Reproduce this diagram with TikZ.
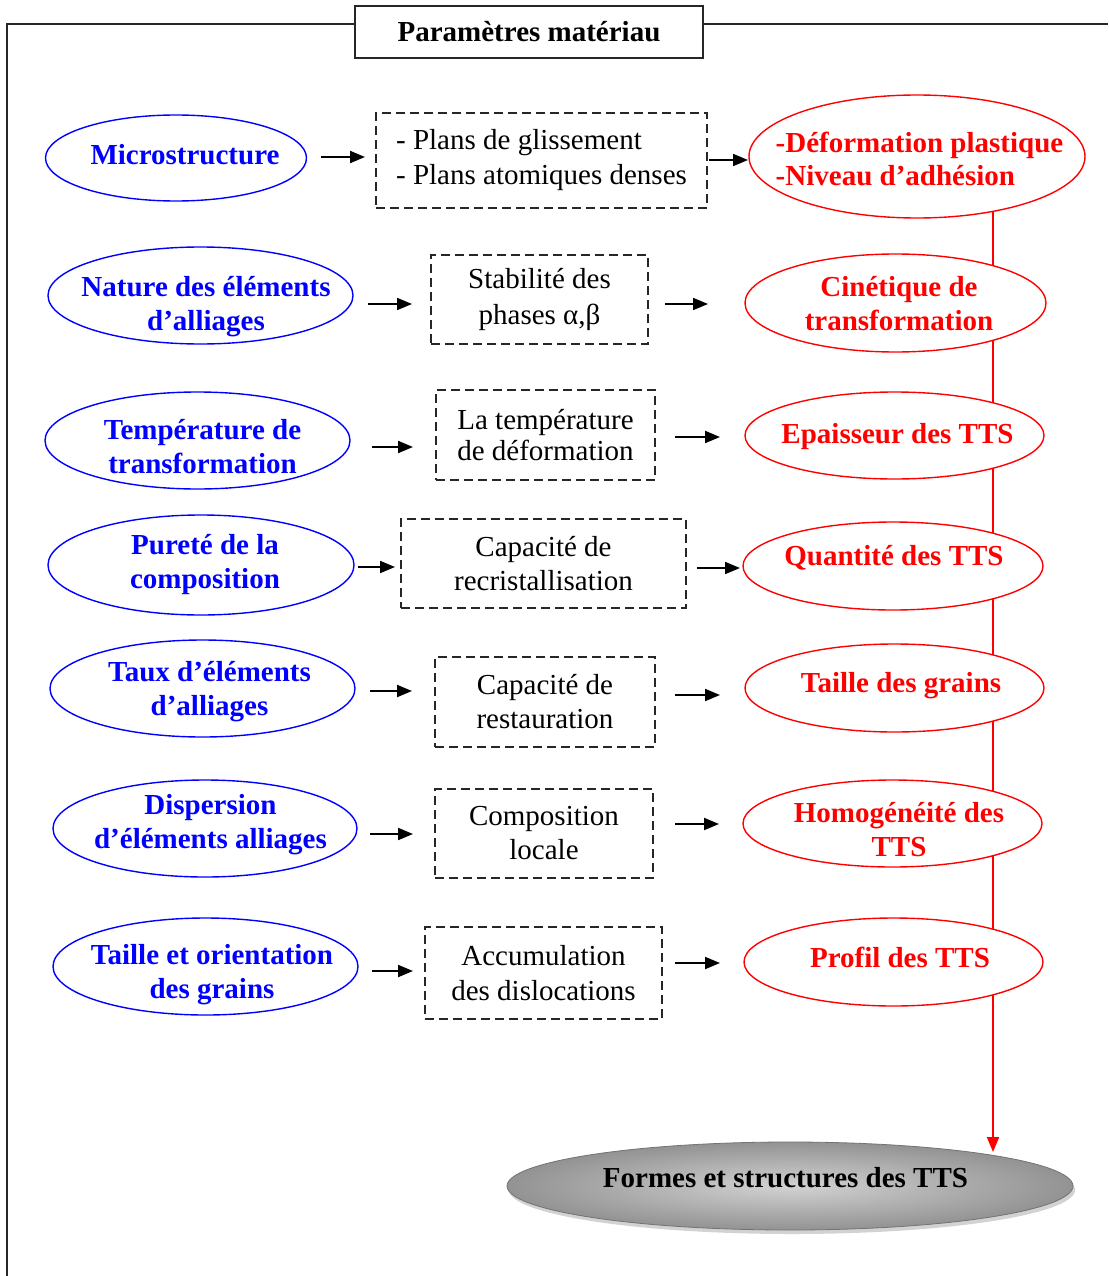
\documentclass[tikz,border=0pt]{standalone}
\usepackage{fontspec}
\setmainfont{Liberation Serif}
\usetikzlibrary{shapes.geometric,arrows.meta,shadows,backgrounds}
\definecolor{pblue}{RGB}{0,0,255}
\definecolor{pred}{RGB}{255,0,0}
\begin{document}
\begin{tikzpicture}[x=1pt,y=-1pt,
  every node/.style={inner sep=0pt, outer sep=0pt},
  bell/.style={ellipse, draw=pblue, line width=1.4pt, fill=white},
  rell/.style={ellipse, draw=pred, line width=1.4pt, fill=white},
  btxt/.style={text=pblue, font=\fontsize{29}{34}\selectfont\bfseries, align=center},
  rtxt/.style={text=pred, font=\fontsize{29}{34}\selectfont\bfseries, align=center},
  dbox/.style={draw=black!85, dash pattern=on 9pt off 5pt, line width=1.5pt, font=\fontsize{29}{34}\selectfont, align=center},
  arr/.style={-{Triangle[length=15pt,width=12pt]}, line width=2pt},
  frameln/.style={line width=2pt, draw=black!85},
  redln/.style={draw=pred, line width=2pt, -{Triangle[length=15pt,width=12pt]}},
]
\useasboundingbox (0,0) rectangle (1108,1276);
\begin{scope}[on background layer]
\fill[white] (0,0) rectangle (1108,1276);
\end{scope}

% header and frame
\node[draw=black!85, line width=1.8pt, minimum width=348, minimum height=52,
      font=\fontsize{29}{34}\selectfont\bfseries] (h) at (529,32) {Paramètres matériau};
\coordinate (ftl) at (7,24);
\coordinate (ftr) at (1108,24);
\coordinate (fbl) at (7,1276);
\draw[frameln] (h.west |- ftl) -- (ftl) -- (fbl);
\draw[frameln] (h.east |- ftr) -- (ftr);

% blue ellipses
\node[bell, minimum width=261, minimum height=86] (b1) at (176,158) {};
\node[bell, minimum width=305, minimum height=97] (b2) at (200.5,295.5) {};
\node[bell, minimum width=305, minimum height=97] (b3) at (197.5,440.5) {};
\node[bell, minimum width=306, minimum height=100] (b4) at (201,565) {};
\node[bell, minimum width=305, minimum height=97] (b5) at (202.5,688.5) {};
\node[bell, minimum width=304, minimum height=97] (b6) at (205,828.5) {};
\node[bell, minimum width=305, minimum height=97] (b7) at (205.5,966.5) {};

\node[btxt] (t1) at (185,155) {Microstructure};
\node[btxt] (t2) at (206,307) {Nature des éléments\\d’alliages};
\node[btxt] (t3) at (202.5,446.5) {Température de\\transformation};
\node[btxt] (t4) at (205,565) {Pureté de la\\composition};
\node[btxt] (t5) at (209.5,692) {Taux d’éléments\\d’alliages};
\node[btxt] (t6) at (210.5,825) {Dispersion\\d’éléments alliages};
\node[btxt] (t7) at (212,974.5) {Taille et orientation\\des grains};

% dashed boxes
\node[dbox, minimum width=331, minimum height=95, align=left] (d1) at (541.5,160.5) {- Plans de glissement\\[1pt]- Plans atomiques denses};
\node[dbox, minimum width=217, minimum height=89] (d2) at (539.5,299.5) {Stabilité des\\[2pt]phases α,β};
\node[dbox, minimum width=219, minimum height=90] (d3) at (545.5,435) {La température\\[-3pt]de déformation};
\node[dbox, minimum width=285, minimum height=89] (d4) at (543.5,563.5) {Capacité de\\recristallisation};
\node[dbox, minimum width=220, minimum height=90] (d5) at (545,702) {Capacité de\\restauration};
\node[dbox, minimum width=218, minimum height=89] (d6) at (544,833.5) {Composition\\locale};
\node[dbox, minimum width=237, minimum height=92] (d7) at (543.5,973) {Accumulation\\[1pt]des dislocations};

% red ellipses
\node[rell, minimum width=336, minimum height=123] (r1) at (917,156.5) {};
\node[rell, minimum width=301, minimum height=98] (r2) at (895.5,303) {};
\node[rell, minimum width=299, minimum height=87] (r3) at (894.5,435.5) {};
\node[rell, minimum width=300, minimum height=88] (r4) at (893,566) {};
\node[rell, minimum width=299, minimum height=88] (r5) at (894.5,688) {};
\node[rell, minimum width=299, minimum height=87] (r6) at (892.5,823.5) {};
\node[rell, minimum width=299, minimum height=88] (r7) at (893.5,962) {};

\node[rtxt, align=left] (s1) at (919.5,158.5) {-Déformation plastique\\[-1pt]-Niveau d’adhésion};
\node[rtxt] (s2) at (899,303.5) {Cinétique de\\transformation};
\node[rtxt] (s3) at (897.5,437) {Epaisseur des TTS};
\node[rtxt] (s4) at (894,558) {Quantité des TTS};
\node[rtxt] (s5) at (901,686) {Taille des grains};
\node[rtxt] (s6) at (899,830) {Homogénéité des\\TTS};
\node[rtxt] (s7) at (900,957) {Profil des TTS};

% gray final ellipse
\node[ellipse, minimum width=566, minimum height=88, draw=black!55, line width=0.8pt,
      inner color=gray!35, outer color=gray!85,
      drop shadow={shadow xshift=2pt, shadow yshift=-4pt, opacity=0.35}] (g) at (790,1186) {};
\node[font=\fontsize{29}{34}\selectfont\bfseries] (gt) at (785.5,1178) {Formes et structures des TTS};

% row arrow levels
\coordinate (la1) at (0,157);  \coordinate (ra1) at (0,160);
\coordinate (la2) at (0,304);  \coordinate (ra2) at (0,304);
\coordinate (la3) at (0,447);  \coordinate (ra3) at (0,437);
\coordinate (la4) at (0,567);  \coordinate (ra4) at (0,568);
\coordinate (la5) at (0,691);  \coordinate (ra5) at (0,695);
\coordinate (la6) at (0,834);  \coordinate (ra6) at (0,824);
\coordinate (la7) at (0,971);  \coordinate (ra7) at (0,963);

% left arrows
\draw[arr, shorten <=14.5, shorten >=11] (b1.east |- la1) -- (d1.west |- la1);
\draw[arr, shorten <=15, shorten >=19] (b2.east |- la2) -- (d2.west |- la2);
\draw[arr, shorten <=22, shorten >=23] (b3.east |- la3) -- (d3.west |- la3);
\draw[arr, shorten <=4, shorten >=6] (b4.east |- la4) -- (d4.west |- la4);
\draw[arr, shorten <=15, shorten >=23] (b5.east |- la5) -- (d5.west |- la5);
\draw[arr, shorten <=13, shorten >=22] (b6.east |- la6) -- (d6.west |- la6);
\draw[arr, shorten <=14, shorten >=12] (b7.east |- la7) -- (d7.west |- la7);

% right arrows
\draw[arr, shorten <=2, shorten >=1] (d1.east |- ra1) -- (r1.west |- ra1);
\draw[arr, shorten <=17, shorten >=37] (d2.east |- ra2) -- (r2.west |- ra2);
\draw[arr, shorten <=20, shorten >=25] (d3.east |- ra3) -- (r3.west |- ra3);
\draw[arr, shorten <=11, shorten >=3] (d4.east |- ra4) -- (r4.west |- ra4);
\draw[arr, shorten <=20, shorten >=25] (d5.east |- ra5) -- (r5.west |- ra5);
\draw[arr, shorten <=22, shorten >=24] (d6.east |- ra6) -- (r6.west |- ra6);
\draw[arr, shorten <=13, shorten >=24] (d7.east |- ra7) -- (r7.west |- ra7);

% red vertical connector
\coordinate (tip) at (993,1152);
\begin{scope}[on background layer]
\draw[redln] (r1.center -| tip) -- (tip);
\end{scope}
\end{tikzpicture}
\end{document}
